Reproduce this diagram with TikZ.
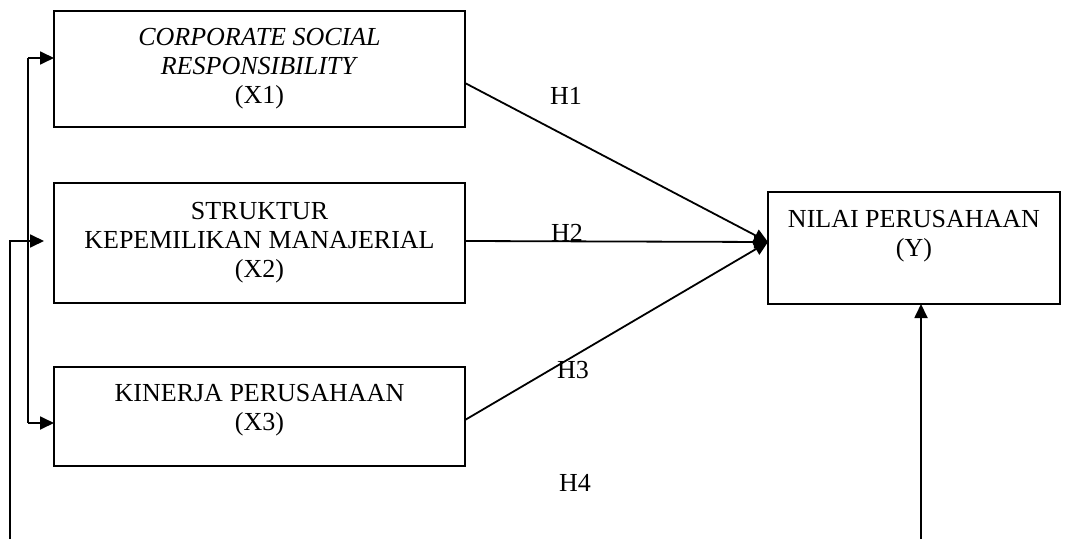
\documentclass[tikz,border=0pt]{standalone}
\usepackage{fontspec}
\setmainfont{Liberation Serif}
\usetikzlibrary{arrows.meta}

\tikzset{
  varbox/.style={draw, line width=1.8pt, minimum width=411pt, inner sep=0pt, outer sep=0pt,
    align=center, font=\fontsize{26}{29}\selectfont},
  hlabel/.style={font=\fontsize{26}{29}\selectfont, inner sep=0pt},
  link/.style={line width=1.8pt, -{Triangle[length=14pt,width=13pt]}}
}

\begin{document}
\begin{tikzpicture}[x=1pt, y=1pt]
\useasboundingbox (0,0) rectangle (1070,539);
\node[varbox, minimum height=116pt] (x1) at (259.5,470) {\textit{CORPORATE SOCIAL}\\\textit{RESPONSIBILITY}\\(X1)};
\node[varbox, minimum height=120pt] (x2) at (259.5,296) {STRUKTUR\\KEPEMILIKAN MANAJERIAL\\(X2)};
\node[varbox, minimum height=99pt, text depth=19pt] (x3) at (259.5,122.5) {KINERJA PERUSAHAAN\\(X3)};
\node[varbox, minimum width=292pt, minimum height=112pt, text depth=30pt] (y) at (914,291) {NILAI PERUSAHAAN\\(Y)};
\coordinate (ytip) at (768,297);
\draw[link] ([yshift=-14pt]x1.east) -- (ytip);
\draw[link] ([yshift=2pt]x2.east) -- (ytip);
\draw[link] ([yshift=-3.5pt]x3.east) -- (ytip);
\node[hlabel] (h1) at (566,443) {H1};
\node[hlabel] (h2) at (567,306) {H2};
\node[hlabel] (h3) at (573,169) {H3};
\node[hlabel] (h4) at (575,56) {H4};
% bracket on the left
\coordinate (bartop) at (28,481);
\coordinate (barfoot) at (28,116);
\draw[line width=1.8pt] (bartop) -- (barfoot);
\draw[link] (bartop) -- (bartop -| x1.west);
\draw[link] (barfoot) -- (barfoot -| x3.west);
\coordinate (outerfoot) at (10,0);
\coordinate (outerknee) at (10,298);
\coordinate (midtip) at (44,298);
\draw[link] (outerfoot) -- (outerknee) -- (midtip);
% line up into Y
\coordinate (yfoot) at (921,0);
\draw[link] (yfoot) -- (yfoot |- y.south);
\end{tikzpicture}
\end{document}
